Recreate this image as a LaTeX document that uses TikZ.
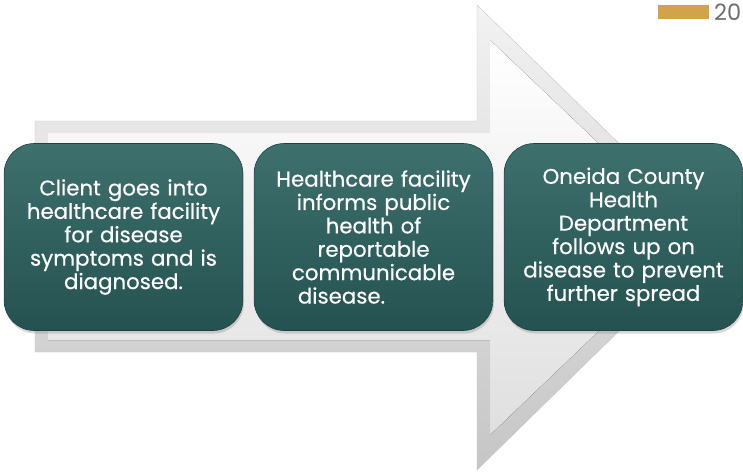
\documentclass[tikz,border=0pt]{standalone}
\usepackage{fontspec}
\setmainfont{Poppins}
\newfontfamily\stepfont[FakeBold=0.5]{Poppins}
\usepackage{tikz}
\usetikzlibrary{shadows}
\definecolor{stepteal}{RGB}{36, 82, 80}
\definecolor{stepteallight}{RGB}{62, 112, 109}
\definecolor{bargold}{RGB}{211, 163, 76}
\definecolor{pagegray}{RGB}{110, 110, 110}

\begin{document}
\begin{tikzpicture}[x=1pt,y=-1pt,
    stepbox/.style={draw=stepteal!80!black, line width=0.6pt, rounded corners=30pt,
      top color=stepteallight, bottom color=stepteal, minimum width=237pt, minimum height=187pt,
      text=white, align=center, text width=232pt, font=\stepfont\fontsize{21.3}{23.4}\selectfont,
      drop shadow={opacity=0.3, shadow xshift=1pt, shadow yshift=-3pt}}]
    \useasboundingbox[fill=white] (0,0) rectangle (743,475);

    \draw[draw=gray!45, top color=gray!10, bottom color=gray!45]
        (35,121) -- (477,121) -- (477,5) -- (715,237) -- (477,470) -- (477,352) -- (35,352) -- cycle;
    \fill[top color=white, bottom color=gray!25]
        (48,133) -- (490,133) -- (490,40) -- (697,237) -- (490,435) -- (490,340) -- (48,340) -- cycle;

    \node[stepbox] (client) at (123.5,237) {Client goes into\\healthcare facility\\for disease\\symptoms and is\\diagnosed.};
    \node[stepbox] (facility) at (373.5,237) {Healthcare facility\\informs public\\health of\\reportable\\communicable\\disease.\hspace*{64pt}};
    \node[stepbox] (county) at (623.5,237) {Oneida County\\Health\\Department\\follows up on\\disease to prevent\\further spread};

    \node[fill=bargold, minimum width=51pt, minimum height=14pt, inner sep=0pt] (bar) at (683.5,12) {};
    \node[text=pagegray, anchor=base west, inner sep=0pt, font=\fontsize{22.5}{22.5}\selectfont] (pagenum) at (714,20.5) {20};
\end{tikzpicture}
\end{document}
